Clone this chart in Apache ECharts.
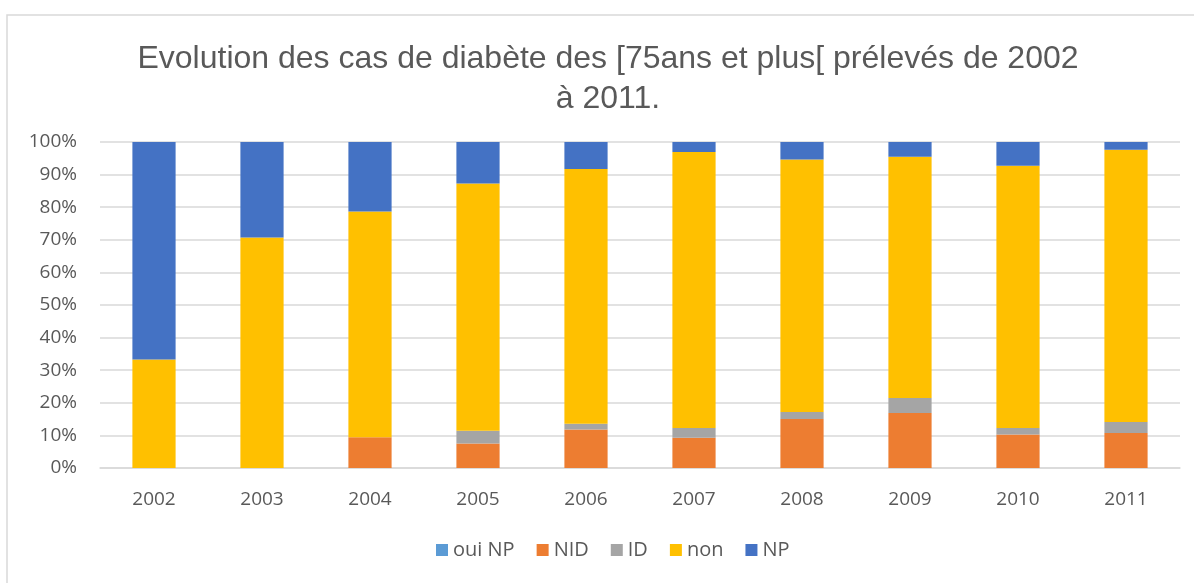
<!DOCTYPE html>
<html>
<head>
<meta charset="utf-8">
<title>Evolution des cas de diabète</title>
<script src="https://cdn.jsdelivr.net/npm/echarts@6/dist/echarts.min.js"></script>
<style>
  html, body { margin: 0; padding: 0; background: #fff; }
  #chart { width: 1194px; height: 583px; }
</style>
</head>
<body>
<div id="chart"></div>
<script>
// années
var years = ['2002', '2003', '2004', '2005', '2006', '2007', '2008', '2009', '2010', '2011'];
// parts en %
var ouiNP = [0, 0, 0, 0, 0, 0, 0, 0, 0, 0];
var nid   = [0, 0, 9.4, 7.5, 11.8, 9.3, 15.0, 16.9, 10.3, 10.7];
var id    = [0, 0, 0, 3.9, 1.8, 3.0, 2.2, 4.6, 2.0, 3.4];
var non   = [33.3, 70.7, 69.3, 75.9, 78.1, 84.6, 77.4, 74.0, 80.4, 83.5];
var np    = [66.7, 29.3, 21.3, 12.7, 8.3, 3.1, 5.4, 4.5, 7.3, 2.4];

var seriesNames = ['oui NP', 'NID', 'ID', 'non', 'NP'];
var seriesData = [ouiNP, nid, id, non, np];
var colors = ['#5b9bd5', '#ed7d31', '#a5a5a5', '#ffc000', '#4472c4'];

var font = '"Liberation Sans", Arial, sans-serif';
var font2 = '"Open Sans", "Noto Sans", sans-serif';

var myChart = echarts.init(document.getElementById('chart'));

var series = seriesNames.map(function (name, i) {
    return {
        name: name,
        type: 'bar',
        stack: 'total',
        barWidth: '40%',
        data: seriesData[i],
        itemStyle: {color: colors[i]}
    };
});

var option = {
    animation: false,
    color: colors,
    graphic: [{
        type: 'rect',
        shape: {x: 7, y: 15, width: 1200, height: 600},
        style: {fill: 'none', stroke: '#d9d9d9', lineWidth: 1.5},
        silent: true
    }],
    title: {
        text: 'Evolution des cas de diabète des [75ans et plus[ prélevés de 2002\nà 2011.',
        left: 603,
        top: 34,
        textAlign: 'center',
        textStyle: {
            fontFamily: font,
            fontSize: 32,
            fontWeight: 'normal',
            color: '#595959',
            lineHeight: 40
        }
    },
    legend: {
        data: seriesNames,
        bottom: 18,
        left: 431,
        icon: 'rect',
        itemWidth: 12,
        itemHeight: 12,
        itemGap: 22,
        textStyle: {fontFamily: font2, fontSize: 20, color: '#595959'}
    },
    grid: {
        left: 100,
        right: 14,
        top: 142,
        bottom: 115
    },
    xAxis: {
        type: 'category',
        data: years,
        axisTick: {show: false},
        axisLine: {lineStyle: {color: '#d9d9d9', width: 1.5}},
        axisLabel: {fontFamily: font2, fontSize: 19, color: '#595959', margin: 22}
    },
    yAxis: {
        type: 'value',
        min: 0,
        max: 100,
        interval: 10,
        axisLine: {show: false},
        axisTick: {show: false},
        axisLabel: {
            fontFamily: font2, fontSize: 19, color: '#595959', margin: 23,
            formatter: '{value}%'
        },
        splitLine: {lineStyle: {color: '#d9d9d9', width: 1.5}}
    },
    series: series
};
myChart.setOption(option);
</script>
</body>
</html>
